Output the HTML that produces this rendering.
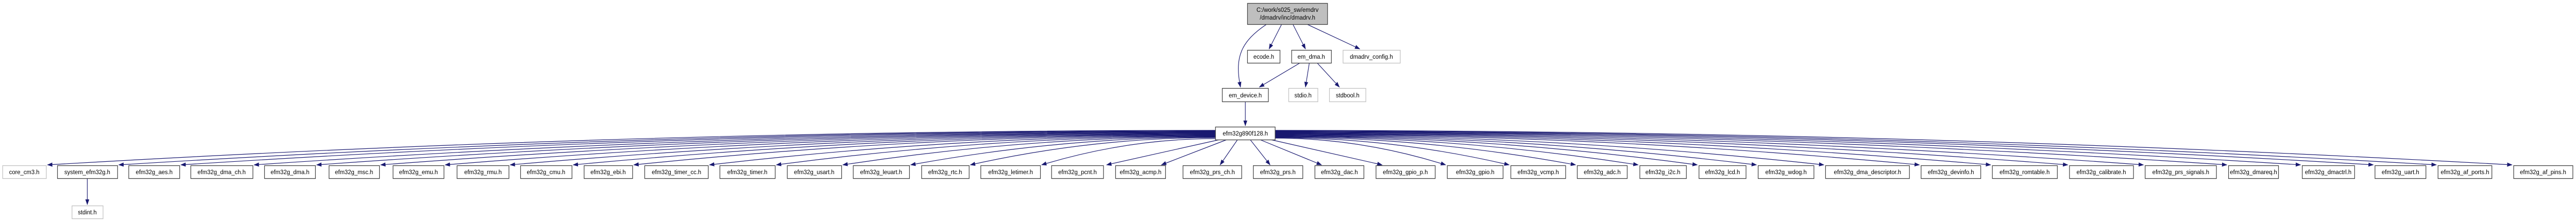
<!DOCTYPE html>
<html><head><meta charset="utf-8"><style>
html,body{margin:0;padding:0;background:#fff;overflow:hidden;width:100%;height:100%;}
svg{display:block;width:100vw;height:100vh;}
text{font-family:"Liberation Sans",sans-serif;font-size:12px;fill:#000;}
</style></head><body>
<svg viewBox="0 0 5312 427" preserveAspectRatio="none" xmlns="http://www.w3.org/2000/svg">
<defs><marker id="a" markerUnits="userSpaceOnUse" markerWidth="11" markerHeight="8" refX="10" refY="4" orient="auto"><path d="M0,0 L11,4 L0,8 z" fill="#191970"/></marker></defs>
<g fill="none" stroke="#191970" stroke-width="1.2" marker-end="url(#a)">
<path d="M2612 47 C2560 80 2545 110 2558 169"/>
<path d="M2643 47 L2617 95"/>
<path d="M2666 47 L2692 95"/>
<path d="M2695 47 L2804 95"/>
<path d="M2681 122 L2597 169"/>
<path d="M2700 122 L2692 169"/>
<path d="M2716 122 L2762 169"/>
<path d="M2568 197 L2568 244"/>
<path d="M180 346 L180 397"/>
<path d="M2506 253 Q1302 253 98 320"/>
<path d="M2506 254 Q1375 254 245 320"/>
<path d="M2506 255 Q1440 255 373 320"/>
<path d="M2506 256 Q1515 256 524 320"/>
<path d="M2506 257 Q1580 257 653 320"/>
<path d="M2506 258 Q1645 258 785 320"/>
<path d="M2506 259 Q1712 259 918 320"/>
<path d="M2506 260 Q1780 260 1052 320"/>
<path d="M2506 261 Q1844 261 1182 320"/>
<path d="M2506 262 Q1906 262 1307 320"/>
<path d="M2506 263 Q1985 263 1463 320"/>
<path d="M2506 264 Q2053 264 1601 320"/>
<path d="M2506 265 Q2122 265 1738 320"/>
<path d="M2506 266 Q2192 266 1878 320"/>
<path d="M2506 267 Q2253 267 2001 320"/>
<path d="M2508 269 Q2327 269 2148 320"/>
<path d="M2515 271 L2282 320"/>
<path d="M2530 271 L2395 320"/>
<path d="M2552 271 L2516 320"/>
<path d="M2578 271 L2619 320"/>
<path d="M2598 271 L2725 320"/>
<path d="M2620 271 L2850 320"/>
<path d="M2629 268 Q2805 268 2981 320"/>
<path d="M2629 267 Q2870 267 3112 320"/>
<path d="M2629 266 Q2939 266 3249 320"/>
<path d="M2629 265 Q3003 265 3378 320"/>
<path d="M2629 264 Q3064 264 3500 320"/>
<path d="M2629 263 Q3125 263 3622 320"/>
<path d="M2629 262 Q3195 262 3761 320"/>
<path d="M2629 261 Q3293 261 3958 320"/>
<path d="M2629 260 Q3367 260 4105 320"/>
<path d="M2629 259 Q3446 259 4264 320"/>
<path d="M2629 258 Q3524 258 4420 320"/>
<path d="M2629 257 Q3610 257 4592 320"/>
<path d="M2629 256 Q3686 256 4744 320"/>
<path d="M2629 255 Q3761 255 4894 320"/>
<path d="M2629 254 Q3826 254 5024 320"/>
<path d="M2629 253 Q3904 253 5180 320"/>
</g>
<g stroke-width="1.3">
<rect x="2572.5" y="6.5" width="165" height="41" fill="#bfbfbf" stroke="#404040"/>
<rect x="2572.5" y="97.5" width="67" height="25" fill="#fff" stroke="#404040"/>
<rect x="2663.5" y="97.5" width="82" height="25" fill="#fff" stroke="#404040"/>
<rect x="2769.5" y="97.5" width="118" height="25" fill="#fff" stroke="#c0c0c0"/>
<rect x="2520.5" y="171.5" width="95" height="26" fill="#fff" stroke="#404040"/>
<rect x="2657.5" y="171.5" width="60" height="26" fill="#fff" stroke="#c0c0c0"/>
<rect x="2741.5" y="171.5" width="75" height="26" fill="#fff" stroke="#c0c0c0"/>
<rect x="2506.5" y="246.5" width="123" height="25" fill="#fff" stroke="#404040"/>
<rect x="148.5" y="399.5" width="64" height="25" fill="#fff" stroke="#c0c0c0"/>
<rect x="5.5" y="321.5" width="90" height="25" fill="#fff" stroke="#c0c0c0"/>
</g>
<g fill="#fff" stroke="#404040" stroke-width="1.3">
<rect x="118.5" y="321.5" width="124" height="25"/>
<rect x="265.5" y="321.5" width="105" height="25"/>
<rect x="393.5" y="321.5" width="128" height="25"/>
<rect x="545.5" y="321.5" width="105" height="25"/>
<rect x="678.5" y="321.5" width="104" height="25"/>
<rect x="810.5" y="321.5" width="105" height="25"/>
<rect x="942.5" y="321.5" width="107" height="25"/>
<rect x="1073.5" y="321.5" width="106" height="25"/>
<rect x="1204.5" y="321.5" width="100" height="25"/>
<rect x="1329.5" y="321.5" width="131" height="25"/>
<rect x="1484.5" y="321.5" width="114" height="25"/>
<rect x="1623.5" y="321.5" width="112" height="25"/>
<rect x="1759.5" y="321.5" width="116" height="25"/>
<rect x="1900.5" y="321.5" width="98" height="25"/>
<rect x="2022.5" y="321.5" width="123" height="25"/>
<rect x="2168.5" y="321.5" width="107" height="25"/>
<rect x="2300.5" y="321.5" width="103" height="25"/>
<rect x="2439.5" y="321.5" width="121" height="25"/>
<rect x="2584.5" y="321.5" width="102" height="25"/>
<rect x="2711.5" y="321.5" width="101" height="25"/>
<rect x="2837.5" y="321.5" width="122" height="25"/>
<rect x="2984.5" y="321.5" width="115" height="25"/>
<rect x="3115.5" y="321.5" width="113" height="25"/>
<rect x="3252.5" y="321.5" width="103" height="25"/>
<rect x="3381.5" y="321.5" width="96" height="25"/>
<rect x="3503.5" y="321.5" width="97" height="25"/>
<rect x="3625.5" y="321.5" width="115" height="25"/>
<rect x="3764.5" y="321.5" width="173" height="25"/>
<rect x="3961.5" y="321.5" width="123" height="25"/>
<rect x="4108.5" y="321.5" width="134" height="25"/>
<rect x="4267.5" y="321.5" width="132" height="25"/>
<rect x="4423.5" y="321.5" width="147" height="25"/>
<rect x="4595.5" y="321.5" width="103" height="25"/>
<rect x="4747.5" y="321.5" width="108" height="25"/>
<rect x="4897.5" y="321.5" width="105" height="25"/>
<rect x="5027.5" y="321.5" width="111" height="25"/>
<rect x="5183.5" y="321.5" width="122" height="25"/>
</g>
<g text-anchor="middle">
<text x="2655" y="23">C:/work/s025_sw/emdrv</text>
<text x="2655" y="38">/dmadrv/inc/dmadrv.h</text>
<text x="2606" y="114">ecode.h</text>
<text x="2704" y="114">em_dma.h</text>
<text x="2828" y="114">dmadrv_config.h</text>
<text x="2568" y="189">em_device.h</text>
<text x="2687" y="189">stdio.h</text>
<text x="2779" y="189">stdbool.h</text>
<text x="2568" y="263">efm32g890f128.h</text>
<text x="180" y="416">stdint.h</text>
<text x="50" y="338">core_cm3.h</text>
<text x="180" y="338">system_efm32g.h</text>
<text x="318" y="338">efm32g_aes.h</text>
<text x="457" y="338">efm32g_dma_ch.h</text>
<text x="598" y="338">efm32g_dma.h</text>
<text x="730" y="338">efm32g_msc.h</text>
<text x="863" y="338">efm32g_emu.h</text>
<text x="996" y="338">efm32g_rmu.h</text>
<text x="1126" y="338">efm32g_cmu.h</text>
<text x="1254" y="338">efm32g_ebi.h</text>
<text x="1395" y="338">efm32g_timer_cc.h</text>
<text x="1541" y="338">efm32g_timer.h</text>
<text x="1679" y="338">efm32g_usart.h</text>
<text x="1817" y="338">efm32g_leuart.h</text>
<text x="1949" y="338">efm32g_rtc.h</text>
<text x="2084" y="338">efm32g_letimer.h</text>
<text x="2222" y="338">efm32g_pcnt.h</text>
<text x="2352" y="338">efm32g_acmp.h</text>
<text x="2500" y="338">efm32g_prs_ch.h</text>
<text x="2635" y="338">efm32g_prs.h</text>
<text x="2762" y="338">efm32g_dac.h</text>
<text x="2898" y="338">efm32g_gpio_p.h</text>
<text x="3042" y="338">efm32g_gpio.h</text>
<text x="3172" y="338">efm32g_vcmp.h</text>
<text x="3304" y="338">efm32g_adc.h</text>
<text x="3429" y="338">efm32g_i2c.h</text>
<text x="3552" y="338">efm32g_lcd.h</text>
<text x="3683" y="338">efm32g_wdog.h</text>
<text x="3851" y="338">efm32g_dma_descriptor.h</text>
<text x="4023" y="338">efm32g_devinfo.h</text>
<text x="4175" y="338">efm32g_romtable.h</text>
<text x="4333" y="338">efm32g_calibrate.h</text>
<text x="4497" y="338">efm32g_prs_signals.h</text>
<text x="4647" y="338">efm32g_dmareq.h</text>
<text x="4801" y="338">efm32g_dmactrl.h</text>
<text x="4950" y="338">efm32g_uart.h</text>
<text x="5083" y="338">efm32g_af_ports.h</text>
<text x="5244" y="338">efm32g_af_pins.h</text>
</g>
</svg>
</body></html>
